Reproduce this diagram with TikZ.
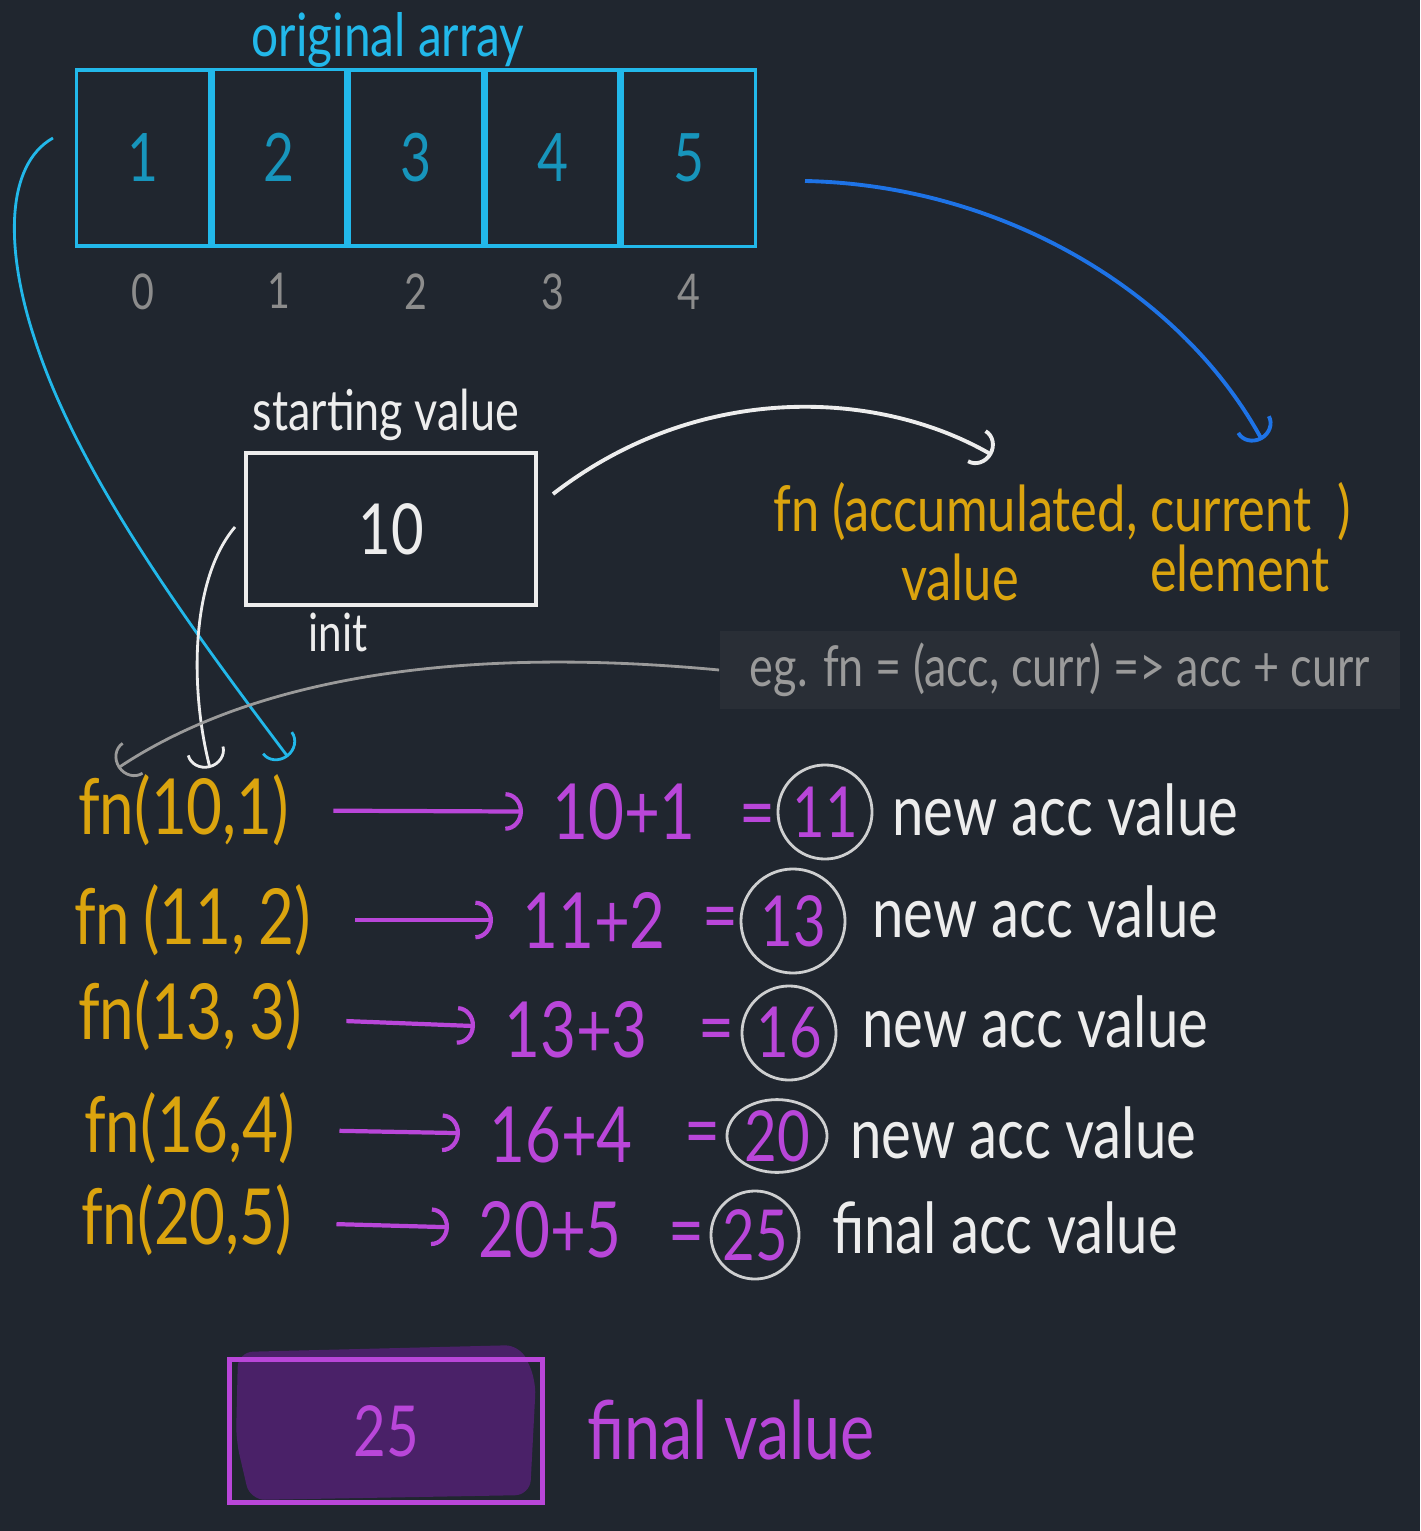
\documentclass[tikz,border=0pt]{standalone}
\usepackage{fontspec}
\setmainfont[FakeStretch=0.8]{Lato}
\usetikzlibrary{matrix,positioning,shapes.geometric,arrows.meta}
\definecolor{bg}{HTML}{20262F}
\definecolor{arrcyan}{HTML}{22B8EA}
\definecolor{numteal}{HTML}{1795BC}
\definecolor{idxgrey}{HTML}{8C8C8C}
\definecolor{fngold}{HTML}{DBA40E}
\definecolor{sumpurple}{HTML}{B946D9}
\definecolor{arcblue}{HTML}{1E73E6}
\definecolor{chalk}{HTML}{EDEDED}
\definecolor{egtext}{HTML}{9A9A9A}
\definecolor{egbox}{HTML}{292E36}
\definecolor{smudge}{HTML}{4A2168}
\newcommand{\fs}[1]{\fontsize{#1}{#1}\selectfont}
\tikzset{
  cell/.style={draw=arrcyan, line width=1pt, minimum width=1.33cm, minimum height=1.76cm,
    outer sep=0pt, text=numteal, font=\fs{19}},
  idx/.style={text=idxgrey, font=\fs{14}},
  sigtext/.style={text=fngold, font=\fs{18}, inner sep=1pt},
  fncall/.style={text=fngold, font=\fs{22}, anchor=west, inner sep=1pt},
  sumtext/.style={text=sumpurple, font=\fs{22}, anchor=west, inner sep=1pt},
  result/.style={draw=chalk!85!bg, line width=0.8pt, circle, text=sumpurple, font=\fs{20}, inner sep=0pt},
  note/.style={text=chalk, font=\fs{20}, anchor=west, inner sep=1pt},
  sumarrow/.style={draw=sumpurple, line width=1.2pt, ->, shorten <=0.4cm, shorten >=0.25cm},
  flow/.style={line width=0.8pt, ->}
}
\begin{document}
\begin{tikzpicture}[x=0.01cm, y=-0.01cm, >={Arc Barb[length=5pt, width=11pt]}]
\useasboundingbox[fill=bg] (0,0) rectangle (1420,1531);
\matrix[matrix of nodes, name=arr, nodes={cell}, column sep=0pt] at (416,158) {
	1&2&3&4&5\\ };
\node[text=arrcyan, font=\fs{17}] (title) at (388,40) {original array};
\node[idx, below=0.15cm of arr-1-1] (i0) {0};
\node[idx, below=0.15cm of arr-1-2] (i1) {1};
\node[idx, below=0.15cm of arr-1-3] (i2) {2};
\node[idx, below=0.15cm of arr-1-4] (i3) {3};
\node[idx, below=0.15cm of arr-1-5] (i4) {4};
\node[text=chalk, font=\fs{16}] (startlbl) at (386,415) {starting value};
\node[draw=chalk, line width=1pt, minimum width=2.9cm, minimum height=1.52cm, text=chalk, font=\fs{20}] (init) at (391,529) {10};
\node[text=chalk, font=\fs{15}] (initlbl) at (338,632) {init};
\node[sigtext] (sig) at (1062,512) {fn (accumulated, current \ )};
\node[sigtext] (sigacc) at (960,577) {value};
\node[sigtext] (sigcur) at (1240,568) {element};
\node[fill=egbox, minimum width=6.8cm, minimum height=0.7cm, text=egtext, font=\fs{16}] (eg) at (1060,670) {eg. fn = (acc, curr) => acc + curr};
\coordinate (arrfrom) at (53,138);
\coordinate (arrto) at (288,757);
\coordinate (elemfrom) at (805,181);
\coordinate (elemto) at (1262,440);
\coordinate (initfrom) at (553,494);
\coordinate (initto) at (992,455);
\coordinate (accfrom) at (235,527);
\coordinate (accto) at (210,768);
\coordinate (egto) at (118,768);
\draw[flow, arrcyan] (arrfrom) .. controls (5,165) and (5,250) .. (35,340) .. controls (80,480) and (200,640) .. (arrto);
\draw[flow, arcblue, line width=1.1pt] (elemfrom) .. controls (1000,185) and (1180,290) .. (elemto);
\draw[flow, chalk, line width=1.1pt] (initfrom) .. controls (700,380) and (880,390) .. (initto);
\draw[flow, chalk] (accfrom) .. controls (190,580) and (190,690) .. (accto);
\draw[flow, egtext] (eg.west) .. controls (400,640) and (220,700) .. (egto);
\node[fncall] (f1) at (74,810) {fn(10,1)};
\node[sumtext] (e1) at (548,812) {10+1};
\node[sumtext] (q1) at (735,822) {=};
\node[result, minimum size=0.94cm] (c1) at (825,812) {11};
\node[note] (n1) at (888,810) {new acc value};
\path (f1) edge[sumarrow] (e1);
\node[fncall] (f2) at (70,920) {fn\,(11,\,2)};
\node[sumtext] (e2) at (518,920) {11+2};
\node[sumtext] (q2) at (698,925) {=};
\node[result, minimum size=1.04cm] (c2) at (793,921) {13};
\node[note] (n2) at (868,912) {new acc value};
\path (f2) edge[sumarrow] (e2);
\node[fncall] (f3) at (74,1015) {fn(13,\,3)};
\node[sumtext] (e3) at (500,1030) {13+3};
\node[sumtext] (q3) at (694,1037) {=};
\node[result, minimum size=0.94cm] (c3) at (789,1033) {16};
\node[note] (n3) at (858,1022) {new acc value};
\path (f3) edge[sumarrow] (e3);
\node[fncall] (f4) at (80,1128) {fn(16,4)};
\node[sumtext] (e4) at (485,1135) {16+4};
\node[sumtext] (q4) at (680,1140) {=};
\node[result, ellipse, minimum width=1.0cm, minimum height=0.7cm] (c4) at (777,1136) {20};
\node[note] (n4) at (846,1133) {new acc value};
\path (f4) edge[sumarrow] (e4);
\node[fncall] (f5) at (77,1220) {fn(20,5)};
\node[sumtext] (e5) at (474,1230) {20+5};
\node[sumtext] (q5) at (664,1240) {=};
\node[result, minimum size=0.88cm] (c5) at (755,1235) {25};
\node[note] (n5) at (828,1228) {final acc value};
\path (f5) edge[sumarrow] (e5);
\fill[smudge, rounded corners=0.15cm] (238,1352) -- (520,1345) -- (536,1380) -- (530,1495) -- (250,1500) -- (236,1440) -- cycle;
\node[draw=sumpurple, line width=1.2pt, minimum width=3.13cm, minimum height=1.43cm, text=sumpurple, font=\fs{20}] (final) at (386,1431) {25};
\node[text=sumpurple, font=\fs{23}, anchor=west] (finallbl) at (575,1430) {final value};
\end{tikzpicture}
\end{document}
